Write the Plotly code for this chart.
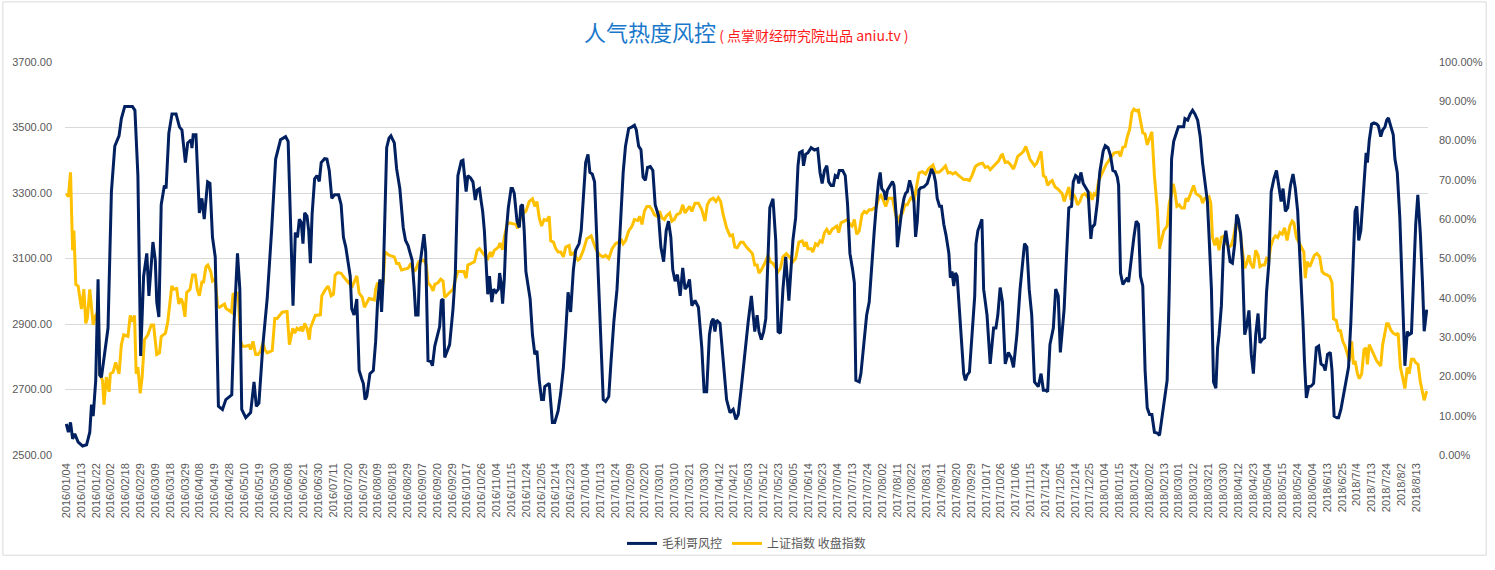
import plotly.graph_objects as go

# ---------------- tick labels (every 7th trading day) ----------------
tick_labels = [
    "2016/01/04", "2016/01/13", "2016/01/22", "2016/02/02", "2016/02/18", "2016/02/29",
    "2016/03/09", "2016/03/18", "2016/03/29", "2016/04/08", "2016/04/19", "2016/04/28",
    "2016/05/10", "2016/05/19", "2016/05/30", "2016/06/08", "2016/06/21", "2016/06/30",
    "2016/07/11", "2016/07/20", "2016/07/29", "2016/08/09", "2016/08/18", "2016/08/29",
    "2016/09/07", "2016/09/20", "2016/09/29", "2016/10/17", "2016/10/26", "2016/11/04",
    "2016/11/15", "2016/11/24", "2016/12/05", "2016/12/14", "2016/12/23",
    "2017/01/04", "2017/01/13", "2017/01/24", "2017/02/09", "2017/02/20", "2017/03/01",
    "2017/03/10", "2017/03/21", "2017/03/30", "2017/04/12", "2017/04/21", "2017/05/03",
    "2017/05/12", "2017/05/23", "2017/06/05", "2017/06/14", "2017/06/23", "2017/07/04",
    "2017/07/13", "2017/07/24", "2017/08/02", "2017/08/11", "2017/08/22", "2017/08/31",
    "2017/09/11", "2017/09/20", "2017/09/29", "2017/10/17", "2017/10/26", "2017/11/06",
    "2017/11/15", "2017/11/24", "2017/12/05", "2017/12/14", "2017/12/25",
    "2018/01/04", "2018/01/15", "2018/01/24", "2018/02/02", "2018/02/13", "2018/03/01",
    "2018/03/12", "2018/03/21", "2018/03/30", "2018/04/12", "2018/04/23", "2018/05/04",
    "2018/05/15", "2018/05/24", "2018/06/04", "2018/6/13", "2018/6/25", "2018/7/4",
    "2018/7/13", "2018/7/24", "2018/8/2", "2018/8/13",
]
tick_step_days = 7  # one label every 7 trading days

# ---------------- 毛利哥风控 (percent, right axis) ----------------
# x = trading-day number counted from 2016/01/04
mlg_day_a = [0, 1, 2, 3, 4, 5.6, 7.7, 9.6, 11.1, 11.9, 12.7, 13.9, 15.0, 15.8, 16.6, 19.7, 21.3, 22.9, 24.9, 26.0,
             27.6, 31.2, 32.4, 33.8, 35.1, 36.5, 38.0, 39.0, 40.9, 42.0, 42.7, 43.7, 44.8, 46.3, 47.1, 48.4, 49.9, 51.8,
             53.4, 54.6, 56.2, 57.3, 58.9, 59.3, 59.9, 61.2, 62.8, 64.0, 65.1, 66.7, 67.8, 69.0, 70.3, 71.8, 73.7, 75.3,
             78.1, 79.2, 80.8, 81.9, 82.8, 84.7, 87.0, 88.6, 89.7, 90.9, 92.8, 94.8, 96.9, 98.8, 101.1, 103.5, 104.7,
             105.8, 107.0]
mlg_pct_a = [7.9, 5.8, 8.3, 4.1, 5.4, 3.3, 2.3, 2.6, 5.8, 12.8, 9.9, 19.0, 44.7, 20.3, 19.8, 32.3, 67.0, 78.6, 81.2, 85.6,
             88.7, 88.7, 87.7, 71.1, 25.2, 45.5, 51.3, 40.5, 54.2, 49.6, 38.9, 35.1, 63.7, 68.6, 67.8, 81.9, 86.8, 86.8,
             83.5, 82.7, 74.4, 79.4, 80.2, 78.1, 81.5, 81.5, 61.6, 65.3, 60.0, 69.5, 69.1, 55.4, 50.4, 12.4, 11.6, 14.1,
             15.3, 33.9, 51.3, 42.2, 11.6, 9.5, 10.8, 18.6, 12.4, 13.2, 28.1, 39.7, 57.1, 75.3, 80.2, 81.0, 79.8,
             57.1, 38.0]

mlg_day_b = [108.1, 109.1, 110.0, 110.9, 111.7, 112.5, 113.6, 114.4, 115.2, 116.0, 117.2, 118.3, 119.4, 120.3, 121.9,
             123.0, 124.1, 125.3, 126.6, 128.5, 129.7, 130.8, 131.9, 132.9, 134.0, 134.7, 135.8, 137.1, 138.2, 139.4,
             140.2, 141.0, 141.8, 143.3, 144.9, 146.0, 146.9, 148.0, 148.8, 149.6, 150.4, 151.2, 152.3, 153.2, 154.8,
             155.9, 157.4, 159.0, 160.1, 161.3, 162.1, 163.2, 164.2, 164.9, 166.0, 166.8, 167.9, 168.8, 169.6, 170.7,
             172.0, 172.8, 173.9, 175.1, 176.2, 177.0, 177.8, 178.6, 179.8, 180.9, 182.5, 183.6, 184.8, 186.4, 187.2,
             187.9, 188.7, 189.5, 190.8, 191.9, 193.0, 193.9, 195.0, 195.8, 196.5, 197.3, 198.1, 198.9, 199.7, 200.8,
             201.7, 202.8, 203.9, 204.5, 205.2, 205.9, 206.7, 207.5, 208.6, 209.9, 210.6, 211.4, 212.7, 213.8, 214.5,
             215.3]
mlg_pct_b = [56.6, 55.4, 60.0, 59.1, 53.8, 61.6, 60.8, 57.1, 48.8, 61.2, 70.3, 71.1, 69.6, 74.4, 75.4,
             75.3, 72.4, 65.3, 66.2, 66.2, 63.7, 55.4, 52.9, 48.8, 45.5, 37.2, 35.6, 39.7, 21.5, 19.4,
             18.2, 14.1, 14.9, 20.7, 21.5, 28.9, 38.9, 44.7, 36.4, 45.5, 62.9, 78.2, 80.6, 81.2, 79.4,
             72.8, 67.8, 57.9, 54.6, 53.3, 51.7, 49.6, 42.2, 35.6, 35.6, 48.0, 52.5, 56.2, 51.7, 24.0,
             23.8, 22.7, 27.7, 30.6, 32.7, 39.3, 39.7, 24.8, 26.5, 28.1, 37.2, 46.3, 71.1, 74.8, 75.0,
             71.5, 67.0, 71.1, 70.5, 69.5, 64.9, 67.4, 67.8, 64.5, 62.0, 57.1, 48.0, 40.9, 45.5, 38.9,
             42.2, 41.4, 42.2, 46.3, 43.8, 38.5, 44.7, 55.8, 62.9, 67.8, 67.8, 66.6, 59.5, 57.9, 63.3,
             63.7]

mlg_day_c = [216.1, 216.9, 218.9, 220.0, 221.1, 222.1, 223.2, 224.3, 225.2, 225.8, 227.9, 228.6, 229.4, 230.5, 232.1,
             233.3, 234.6, 235.7, 236.8, 238.0, 239.3, 240.4, 242.0, 243.0, 244.0, 245.1, 246.2, 247.1, 248.2, 249.3,
             250.2, 251.3, 252.4, 253.4, 254.5, 256.0, 257.1, 258.4, 259.9, 261.5, 262.8, 263.9, 265.4, 267.0, 268.1,
             269.0, 270.1, 271.2, 272.2, 273.3, 274.3, 275.6, 276.8, 277.9, 279.5, 280.6, 281.9, 283.1, 284.2, 285.3,
             286.2, 287.3, 288.4, 289.7, 290.9, 292.0, 293.1, 294.1, 295.2, 296.7, 298.3, 299.9, 301.0, 302.2, 303.5,
             304.5, 305.3, 306.1, 306.9, 308.5, 310.0, 311.6, 313.2, 314.7, 316.0, 317.1, 318.6, 320.2, 321.8, 323.3]
mlg_pct_c = [57.1, 46.7, 39.7, 30.6, 25.6, 26.5, 19.0, 14.1, 14.1, 17.4, 18.2, 12.4, 8.3, 8.3, 11.2,
             15.7, 22.3, 31.4, 41.4, 36.4, 47.1, 52.1, 53.8, 57.1, 64.5, 74.4, 76.5, 71.9, 71.5, 69.5,
             57.1, 42.2, 25.6, 14.1, 13.6, 14.9, 24.0, 33.9, 42.2, 58.7, 71.9, 78.6, 83.1, 83.5, 83.9,
             82.7, 78.6, 77.7, 70.7, 69.9, 73.2, 73.4, 72.4, 63.7, 60.8, 52.9, 49.2, 57.1, 59.5, 55.4,
             47.1, 44.2, 45.9, 40.5, 47.6, 42.2, 43.0, 44.7, 38.0, 39.3, 37.6, 27.3, 16.1, 16.1, 30.6,
             33.9, 34.7, 31.4, 34.3, 33.5, 24.0, 14.1, 10.8, 11.6, 9.1, 10.3, 17.4, 26.5, 33.9, 40.5]

mlg_day_d = [324.9, 326.0, 326.9, 328.0, 329.1, 330.1, 331.2, 332.0, 333.5, 334.8, 335.9, 337.0, 338.2, 339.5, 341.0,
             342.1, 342.9, 344.2, 345.3, 346.0, 347.3, 347.9, 348.9, 350.0, 351.5, 353.1, 354.6, 355.7, 356.7, 357.8,
             358.9, 359.8, 360.9, 362.0, 362.9, 364.0, 364.8, 366.4, 367.6, 368.7, 369.8, 371.1, 371.9, 372.6, 374.2,
             375.0, 376.6, 377.7, 378.9, 380.2, 381.3, 382.3, 383.3, 384.1, 384.8, 385.9, 386.7, 387.5, 388.6, 389.9,
             390.6, 391.7, 392.2, 393.0, 394.2, 395.3, 396.1, 396.9, 398.0, 398.9, 400.0, 400.8, 401.6, 402.4, 403.2,
             404.7, 406.3, 407.4, 408.3, 409.4, 410.2, 411.0, 412.1, 413.0, 414.1, 415.2, 416.5, 417.2, 418.0, 418.8,
             419.6, 420.4, 421.2, 422.4, 423.5, 424.3, 425.1, 426.2, 427.4, 428.7, 429.3, 430.2, 431.3]
mlg_pct_d = [31.4, 35.6, 31.4, 29.4, 31.4, 34.7, 54.6, 62.9, 65.2, 54.6, 31.4, 31.0, 42.2, 50.4, 39.3,
             48.8, 54.6, 60.4, 73.6, 76.9, 77.3, 73.6, 76.5, 76.9, 78.2, 77.6, 77.9, 71.9, 69.1, 72.4,
             73.6, 69.5, 68.6, 68.6, 71.1, 70.7, 72.4, 72.4, 71.1, 63.7, 51.3, 47.1, 43.8, 19.0, 18.6,
             20.7, 28.9, 35.6, 38.9, 50.4, 57.1, 63.7, 69.5, 71.9, 67.8, 67.0, 64.9, 67.4, 68.6, 69.6,
             68.6, 60.4, 52.9, 57.1, 62.0, 65.3, 66.6, 67.0, 69.9, 68.2, 64.5, 55.5, 59.5, 67.4, 68.0,
             68.2, 69.1, 71.1, 72.8, 71.5, 69.5, 65.3, 63.3, 63.3, 58.7, 55.8, 51.3, 45.1, 46.7, 43.0,
             46.3, 45.5, 38.9, 28.9, 20.7, 19.0, 20.3, 21.1, 30.6, 40.5, 53.8, 57.1, 58.7]

mlg_day_e = [432.1, 432.9, 434.5, 436.0, 437.6, 438.7, 439.6, 440.7, 441.8, 443.1, 444.6, 445.9, 447.0, 448.6, 450.1,
             452.2, 453.3, 454.4, 455.6, 456.9, 458.0, 458.7, 460.0, 461.1, 462.2, 463.1, 464.2, 465.8, 466.9, 468.1,
             469.1, 470.0, 470.9, 472.0, 473.1, 474.4, 475.2, 476.3, 477.2, 477.8, 478.8, 479.9, 481.0, 482.2, 483.5,
             484.1, 485.3, 486.6, 487.7, 489.3, 490.3, 491.6, 492.8, 493.9, 495.0, 496.0, 496.6, 497.5, 498.6, 499.7,
             500.7, 501.3, 502.6, 503.8, 504.9, 506.0, 506.9, 508.0, 509.1, 510.1, 511.2, 512.3, 513.5, 514.8, 515.9,
             517.0, 518.2, 519.5, 520.5, 521.6, 522.6, 523.7, 524.8, 527.3, 527.9, 529.2, 530.4, 531.5, 532.6, 533.9,
             535.1, 536.2, 537.3, 538.5, 539.3]
mlg_pct_e = [60.0, 42.2, 35.6, 23.2, 32.3, 32.3, 35.6, 42.6, 38.9, 23.2, 26.1, 24.8, 22.3, 30.6, 42.2,
             53.8, 52.9, 42.2, 35.6, 18.6, 17.8, 17.4, 20.7, 16.5, 16.5, 16.1, 28.1, 32.3, 42.2, 40.5,
             26.1, 32.3, 37.2, 50.4, 62.9, 63.3, 69.5, 71.1, 70.7, 69.1, 71.9, 69.1, 68.2, 67.0, 55.0,
             57.9, 58.7, 64.5, 71.9, 77.3, 78.7, 78.2, 76.1, 72.4, 72.1, 70.7, 68.6, 46.3, 43.4, 44.2,
             45.1, 44.0, 50.4, 55.4, 59.5, 58.7, 45.5, 43.0, 21.5, 12.0, 10.3, 10.3, 5.8, 5.6, 5.0,
             9.1, 14.1, 19.0, 42.2, 75.3, 79.8, 81.9, 83.5, 83.5, 85.6, 85.2, 86.8, 87.7, 86.8, 85.2,
             81.0, 74.4, 69.1, 64.5, 55.4]

mlg_day_f = [540.4, 541.4, 542.5, 543.3, 544.0, 545.1, 546.1, 547.2, 548.3, 549.2, 550.3, 551.4, 552.3, 553.1, 554.2,
             555.0, 556.1, 557.0, 558.1, 559.2, 560.2, 561.3, 562.4, 563.3, 564.4, 565.5, 566.4, 567.5, 568.6, 569.9,
             571.1, 572.2, 573.3, 574.2, 575.3, 576.4, 577.7, 578.9, 580.0, 581.1, 582.4, 583.6, 584.3, 585.2, 586.3,
             587.4, 588.6, 589.9, 591.0, 592.1, 593.3, 594.1, 595.2, 596.5, 597.3, 598.3, 599.6, 600.4, 601.5, 602.7,
             604.0, 605.1, 606.2, 607.1, 608.2, 609.0, 609.9, 610.9, 611.8, 612.7, 613.4, 614.0, 614.9, 616.0, 617.1,
             618.4, 619.2, 620.3, 621.2, 622.3, 623.1, 623.9, 625.0, 626.2, 627.0, 628.1, 629.3, 630.6, 631.7, 632.8,
             633.7, 634.8, 635.6, 636.8, 637.8, 639.0, 640.0, 640.8, 642.0]
mlg_pct_f = [42.2, 18.6, 17.0, 27.3, 30.6, 38.0, 52.9, 57.1, 52.9, 49.2, 48.8, 53.8, 61.2, 60.0, 56.2,
             49.6, 30.6, 32.7, 36.8, 25.6, 20.7, 30.6, 36.0, 28.5, 29.4, 29.8, 41.4, 48.8, 67.0, 70.3,
             72.4, 68.6, 64.5, 67.8, 62.0, 62.9, 68.6, 71.5, 67.8, 62.0, 48.8, 33.9, 24.0, 14.5, 17.4,
             17.5, 18.2, 27.3, 27.7, 23.2, 22.7, 21.5, 25.6, 26.1, 21.5, 9.9, 9.5, 9.5, 11.6, 14.9,
             19.0, 22.3, 33.9, 44.7, 62.0, 63.3, 54.6, 57.1, 65.3, 71.9, 76.9, 74.4, 80.2, 84.2, 84.5,
             84.2, 83.7, 81.0, 82.7, 83.5, 85.2, 85.8, 83.9, 81.5, 75.3, 71.9, 60.4, 37.2, 22.7, 31.4,
             30.6, 31.0, 42.2, 58.7, 66.2, 56.2, 43.8, 31.5, 37.0]

# ---------------- 上证指数 收盘指数 (left axis) ----------------
sh_day_a = [0, 1, 2, 3, 3.6, 4.5, 5.6, 7.2, 8.3, 9.2, 9.9, 11.1, 12.7, 13.9, 15.0, 15.8, 17.1, 17.8, 18.9, 20.2,
            20.8, 22.1, 23.3, 24.9, 26.0, 27.1, 29.1, 30.2, 31.2, 32.2, 33.0, 33.8, 34.9, 35.8, 36.9, 38.5, 40.1, 41.2,
            42.7, 44.0, 44.8, 46.8, 47.9, 49.8, 50.7, 52.1, 53.1, 54.2, 54.9, 56.0, 56.8, 58.4, 59.6, 60.9, 61.8, 62.8,
            64.0, 64.8, 65.9, 66.8, 68.2, 69.0, 70.3, 71.4, 72.2, 73.4, 74.7, 75.3, 76.9, 78.0, 78.7, 80.3, 81.1, 82.3,
            83.1, 84.7, 86.2, 87.0, 88.1, 89.4, 90.5, 91.7, 92.8, 93.7, 94.8, 97.2, 98.4, 99.5, 101.9, 104.2, 105.3]
sh_close_a = [3298, 3289, 3363, 3125, 3185, 3021, 3016, 2946, 3006, 2902, 2917, 3006, 2897, 2926, 2936, 2748, 2728, 2654,
              2738, 2693, 2748, 2753, 2783, 2748, 2837, 2867, 2862, 2926, 2907, 2926, 2748, 2768, 2688, 2738, 2852, 2867,
              2897, 2897, 2807, 2812, 2862, 2872, 2907, 3016, 3006, 3008, 2961, 2978, 2966, 2922, 2996, 3006, 3050, 3050,
              3006, 2986, 3028, 3028, 3075, 3080, 3060, 3031, 3037, 2956, 2951, 2956, 2961, 2948, 2941, 2936, 2991, 2994,
              2994, 2847, 2832, 2832, 2835, 2822, 2847, 2807, 2807, 2817, 2842, 2822, 2812, 2819, 2917, 2917, 2936, 2938,
              2837]

sh_day_b = [106.9, 107.8, 108.9, 110.0, 110.9, 111.6, 112.5, 113.6, 114.7, 115.2, 116.3, 117.5, 119.9, 120.6, 121.9,
            123.5, 124.1, 125.0, 126.1, 126.9, 128.2, 129.7, 130.8, 131.9, 133.2, 134.0, 134.7, 136.3, 137.1, 138.2,
            139.7, 140.7, 141.8, 142.9, 145.4, 146.0, 146.9, 148.0, 148.8, 149.6, 150.4, 152.3, 154.8, 155.9, 157.0,
            158.2, 161.3, 162.6, 163.7, 164.8, 166.3, 168.8, 169.9, 170.7, 172.0, 173.1, 173.9, 175.4, 176.7, 177.8,
            178.6, 180.9, 182.5, 183.6, 184.8, 187.6, 188.7, 189.5, 192.6, 193.9, 195.0, 197.3, 198.9, 200.1, 200.8,
            202.0, 203.9, 204.7, 205.9, 206.7, 208.0, 209.1, 212.2, 213.0, 214.5]
sh_close_b = [2887, 2872, 2887, 2882, 2892, 2877, 2902, 2887, 2852, 2887, 2906, 2926, 2928, 2986, 3001,
              3016, 3006, 2986, 2991, 3050, 3057, 3055, 3045, 3035, 3026, 3031, 3011, 3035, 3047, 2994,
              2981, 2951, 2966, 2978, 2974, 3006, 3026, 3011, 3001, 3031, 3120, 3110, 3105, 3085, 3085,
              3065, 3070, 3085, 3060, 3065, 3090, 3095, 3080, 3026, 3016, 3001, 3021, 3026, 3037, 3031,
              2981, 2996, 3006, 3035, 3060, 3060, 3040, 3080, 3090, 3125, 3130, 3110, 3100, 3120, 3105,
              3125, 3135, 3147, 3127, 3164, 3204, 3209, 3204, 3192, 3229]

sh_day_c = [214.9, 215.8, 216.9, 218.5, 220.0, 221.1, 222.1, 223.2, 224.3, 225.5, 226.8, 227.9, 228.6, 229.9, 231.0,
            232.1, 233.3, 234.6, 235.7, 237.3, 238.0, 239.3, 240.4, 241.5, 242.4, 244.0, 245.6, 246.6, 247.7, 249.0,
            250.2, 251.8, 253.4, 254.5, 256.0, 257.6, 259.2, 260.7, 261.8, 262.8, 263.9, 265.4, 267.0, 268.1, 269.7,
            270.6, 271.7, 272.8, 274.0, 275.3, 276.4, 277.5, 278.7, 280.0, 281.1, 282.2, 283.1, 284.7, 285.8, 286.9,
            288.1, 289.7, 290.9, 292.0, 293.1, 294.1, 295.2, 296.7, 298.3, 299.9, 301.4, 302.5, 303.8, 305.3, 306.6,
            307.7, 308.8, 310.0, 311.6, 313.2, 314.4, 315.5, 316.6, 318.2, 319.4, 321.0]
sh_close_c = [3264, 3239, 3244, 3274, 3282, 3259, 3274, 3224, 3199, 3219, 3216, 3229, 3154, 3150, 3130,
              3120, 3120, 3105, 3135, 3140, 3110, 3117, 3105, 3095, 3100, 3125, 3160, 3164, 3169, 3145,
              3125, 3110, 3105, 3110, 3100, 3130, 3145, 3150, 3160, 3145, 3154, 3184, 3199, 3219, 3216,
              3229, 3204, 3244, 3259, 3259, 3249, 3234, 3229, 3244, 3224, 3219, 3229, 3239, 3214, 3219,
              3234, 3239, 3264, 3239, 3249, 3259, 3244, 3269, 3269, 3249, 3214, 3264, 3279, 3284, 3274,
              3286, 3274, 3234, 3194, 3169, 3172, 3135, 3133, 3150, 3150, 3135]

sh_day_d = [323.8, 324.9, 326.0, 326.9, 328.0, 329.6, 331.2, 332.3, 333.5, 334.8, 335.9, 337.0, 338.2, 339.8, 341.3,
            342.9, 344.2, 345.7, 347.3, 348.4, 349.2, 350.0, 351.5, 352.3, 353.6, 354.6, 355.7, 356.7, 357.8, 358.9,
            360.1, 361.4, 362.5, 363.6, 364.5, 365.6, 367.2, 368.7, 369.8, 370.8, 371.9, 373.0, 374.2, 375.5, 376.6,
            377.7, 378.9, 380.2, 381.3, 382.3, 383.6, 384.4, 385.5, 386.7, 388.0, 389.9, 391.1, 392.2, 393.3, 394.6,
            395.8, 396.9, 398.0, 398.9, 400.0, 401.1, 402.4, 403.9, 405.5, 406.8, 407.9, 409.0, 410.2, 411.8, 413.3,
            414.9, 416.1, 417.2, 418.3, 419.6, 420.8, 422.4, 423.5, 425.1, 426.2, 427.4, 429.0, 430.5]
sh_close_d = [3115, 3080, 3080, 3055, 3065, 3085, 3110, 3090, 3085, 3070, 3060, 3070, 3105, 3115, 3105,
              3090, 3100, 3150, 3154, 3137, 3150, 3130, 3130, 3120, 3145, 3140, 3154, 3150, 3179, 3189,
              3174, 3189, 3194, 3199, 3179, 3209, 3214, 3219, 3204, 3199, 3219, 3174, 3184, 3234, 3244,
              3239, 3249, 3249, 3254, 3259, 3288, 3293, 3279, 3259, 3284, 3284, 3244, 3209, 3229, 3239,
              3264, 3264, 3279, 3288, 3274, 3313, 3361, 3365, 3358, 3373, 3378, 3385, 3363, 3363, 3371,
              3383, 3361, 3363, 3358, 3363, 3355, 3345, 3341, 3341, 3338, 3353, 3381, 3388]

sh_day_e = [432.4, 433.7, 434.9, 436.0, 437.6, 438.7, 440.0, 441.2, 441.8, 443.1, 444.3, 445.4, 447.0, 448.1, 449.0,
            450.6, 451.7, 452.8, 453.7, 454.8, 455.9, 456.9, 458.0, 459.0, 460.0, 461.1, 462.2, 463.1, 464.2, 465.3,
            466.6, 467.8, 468.9, 470.0, 470.9, 472.0, 473.1, 474.1, 475.2, 476.3, 477.2, 478.3, 479.4, 480.6, 481.9,
            483.0, 484.1, 485.0, 486.1, 487.2, 488.5, 489.7, 490.8, 491.9, 493.2, 494.4, 495.5, 496.6, 497.5, 498.6,
            499.7, 500.7, 501.8, 502.9, 503.8, 504.9, 506.0, 506.9, 508.0, 509.1, 510.1, 511.2, 512.3, 513.5, 514.8,
            515.9, 516.6, 517.9, 519.5, 520.5, 521.6, 522.4, 523.2, 524.1, 525.2, 526.3, 527.6, 528.4, 529.2, 530.4,
            532.0, 533.1, 534.2, 535.4, 536.2, 537.3, 538.5, 539.3]
sh_close_e = [3391, 3378, 3381, 3371, 3383, 3388, 3398, 3415, 3417, 3393, 3395, 3388, 3373, 3393, 3412,
              3420, 3427, 3442, 3427, 3403, 3393, 3383, 3391, 3408, 3427, 3353, 3348, 3323, 3333, 3338,
              3318, 3313, 3305, 3298, 3274, 3293, 3318, 3279, 3298, 3284, 3264, 3274, 3293, 3298, 3288,
              3303, 3279, 3298, 3293, 3338, 3358, 3373, 3388, 3398, 3412, 3422, 3424, 3425, 3412, 3440,
              3442, 3472, 3494, 3546, 3556, 3551, 3553, 3522, 3484, 3480, 3447, 3467, 3487, 3353, 3254,
              3130, 3150, 3184, 3199, 3269, 3298, 3328, 3303, 3259, 3264, 3254, 3254, 3284, 3274, 3298,
              3323, 3298, 3293, 3288, 3269, 3284, 3284, 3288]

sh_day_f = [540.1, 540.9, 542.0, 543.0, 544.0, 545.1, 546.4, 547.6, 548.7, 549.8, 550.8, 551.9, 552.6, 553.9, 555.0,
            556.1, 557.0, 558.1, 558.9, 560.2, 561.3, 562.4, 563.3, 564.4, 565.5, 566.4, 567.5, 568.3, 569.6, 570.6,
            571.7, 572.7, 573.8, 574.9, 576.1, 577.4, 578.5, 579.3, 580.5, 581.6, 582.7, 584.0, 584.7, 585.5, 586.8,
            587.9, 589.0, 590.2, 591.5, 592.6, 593.7, 594.9, 596.2, 597.3, 598.0, 599.3, 600.4, 601.2, 602.4, 603.5,
            604.6, 605.5, 606.6, 607.4, 608.2, 609.3, 610.2, 611.3, 612.4, 613.4, 614.0, 614.9, 616.0, 617.1, 618.4,
            619.6, 620.3, 621.2, 622.3, 623.1, 623.9, 625.0, 626.2, 627.5, 628.5, 629.6, 630.6, 631.7, 632.8, 633.7,
            634.8, 635.9, 636.8, 637.9, 639.0, 640.8, 642.0]
sh_close_f = [3269, 3164, 3140, 3164, 3125, 3164, 3169, 3145, 3135, 3140, 3164, 3204, 3209, 3184, 3125,
              3070, 3085, 3110, 3085, 3070, 3125, 3110, 3075, 3080, 3080, 3100, 3095, 3135, 3160, 3169,
              3164, 3179, 3174, 3194, 3155, 3199, 3214, 3209, 3164, 3150, 3140, 3120, 3040, 3090, 3075,
              3090, 3110, 3115, 3105, 3060, 3053, 3050, 3045, 3026, 2916, 2911, 2877, 2882, 2847, 2832,
              2807, 2787, 2847, 2777, 2787, 2748, 2733, 2748, 2822, 2827, 2777, 2837, 2822, 2807, 2787,
              2777, 2772, 2837, 2872, 2901, 2901, 2882, 2872, 2867, 2872, 2767, 2738, 2703, 2767, 2748,
              2792, 2792, 2782, 2777, 2723, 2667, 2695]

mlg_day = mlg_day_a + mlg_day_b + mlg_day_c + mlg_day_d + mlg_day_e + mlg_day_f
mlg_pct = mlg_pct_a + mlg_pct_b + mlg_pct_c + mlg_pct_d + mlg_pct_e + mlg_pct_f
sh_day = sh_day_a + sh_day_b + sh_day_c + sh_day_d + sh_day_e + sh_day_f
sh_close = sh_close_a + sh_close_b + sh_close_c + sh_close_d + sh_close_e + sh_close_f

for d, v in [(mlg_day_a, mlg_pct_a), (mlg_day_b, mlg_pct_b), (mlg_day_c, mlg_pct_c), (mlg_day_d, mlg_pct_d),
             (mlg_day_e, mlg_pct_e), (mlg_day_f, mlg_pct_f), (sh_day_a, sh_close_a), (sh_day_b, sh_close_b),
             (sh_day_c, sh_close_c), (sh_day_d, sh_close_d), (sh_day_e, sh_close_e), (sh_day_f, sh_close_f)]:
    assert len(d) == len(v), (len(d), len(v), d[0])

NAVY = "#002060"
GOLD = "#FFC000"
GRID = "#D9D9D9"
TXT = "#595959"

fig = go.Figure()
fig.add_trace(go.Scatter(
    x=mlg_day, y=[p / 100 for p in mlg_pct], name="毛利哥风控", mode="lines", yaxis="y2",
    line=dict(color=NAVY, width=3, shape="linear"),
))
fig.add_trace(go.Scatter(
    x=sh_day, y=sh_close, name="上证指数 收盘指数", mode="lines", yaxis="y",
    line=dict(color=GOLD, width=3, shape="linear"),
))

tick_vals = [i * tick_step_days for i in range(len(tick_labels))]

fig.update_layout(
    width=1495, height=570,
    margin=dict(l=63, r=62, t=62, b=106),
    paper_bgcolor="white", plot_bgcolor="white",
    font=dict(family="Liberation Sans, Arial, sans-serif", size=11, color=TXT),
    xaxis=dict(
        range=[-0.6, 642.6], tickmode="array", tickvals=tick_vals, ticktext=tick_labels,
        tickangle=-90, showgrid=False, zeroline=False, showline=False, ticks="",
        tickfont=dict(size=11, color=TXT), ticklabelstandoff=5,
    ),
    yaxis=dict(
        range=[2500, 3700], tick0=2500, dtick=200, tickformat=".2f",
        showgrid=True, gridcolor=GRID, gridwidth=1, zeroline=False, showline=False, ticks="",
        tickfont=dict(size=11, color=TXT), ticklabelstandoff=12,
    ),
    yaxis2=dict(
        range=[0, 1], tick0=0, dtick=0.1, tickformat=".2%", overlaying="y", side="right",
        showgrid=False, zeroline=False, showline=False, ticks="",
        tickfont=dict(size=11, color=TXT), ticklabelstandoff=10,
    ),
    showlegend=True,
    legend=dict(
        orientation="h", x=0.5, xanchor="center", y=-0.225, yanchor="middle",
        font=dict(family="Noto Sans CJK SC, sans-serif", size=12, color=TXT),
        itemwidth=30, bgcolor="rgba(0,0,0,0)",
    ),
    annotations=[dict(
        xref="paper", yref="paper", x=0.5, y=1.079, xanchor="center", yanchor="middle",
        showarrow=False,
        text=("<span style='font-size:22px;color:#1a78cc'>人气热度风控</span>"
              "<span style='font-size:14px;color:#ff1a1a'> ( 点掌财经研究院出品 aniu.tv )</span>"),
        font=dict(family="Noto Sans CJK SC, sans-serif"),
    )],
    shapes=[dict(
        type="rect", xref="paper", yref="paper", layer="below",
        x0=-0.0456, x1=1.0427, y0=-0.2550, y1=1.1530,
        line=dict(color=GRID, width=1), fillcolor="rgba(0,0,0,0)",
    )],
)

fig.write_html("out.html")
